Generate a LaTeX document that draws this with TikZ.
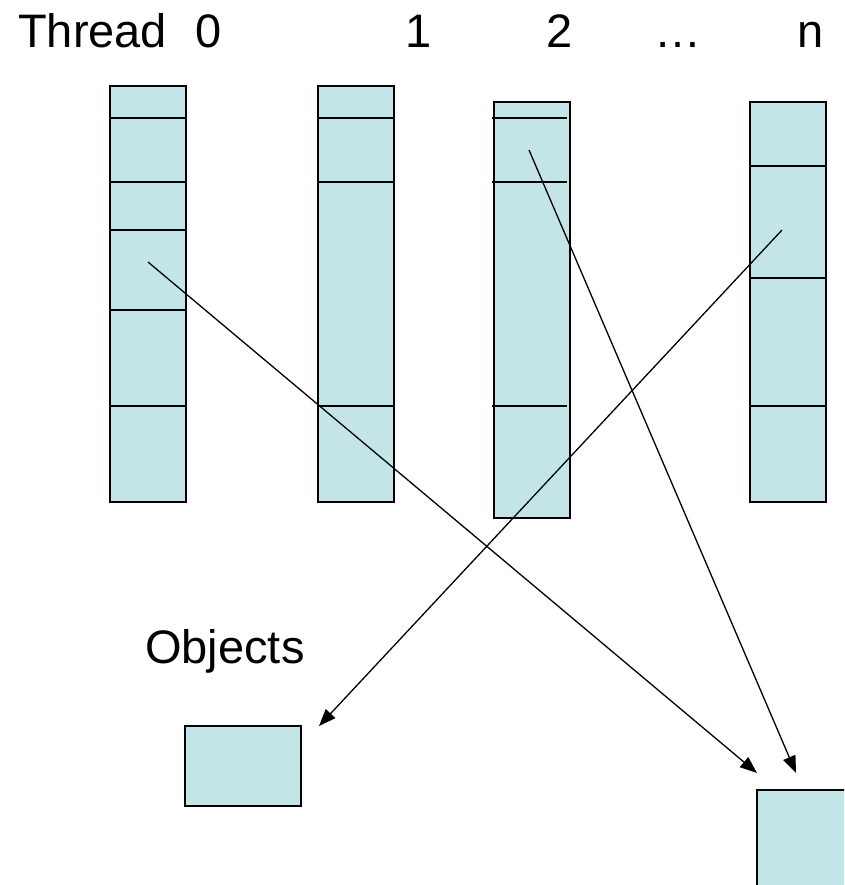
\documentclass[tikz,border=0pt]{standalone}
\usepackage{fontspec}
\setmainfont{Liberation Sans}
\usetikzlibrary{arrows.meta}
\definecolor{cellfill}{RGB}{196,229,231}
\tikzset{
  stack/.style={draw=black, fill=cellfill, line width=2pt, minimum width=76pt, inner sep=0pt, outer sep=0pt},
  objbox/.style={draw=black, fill=cellfill, line width=2pt, inner sep=0pt, outer sep=0pt},
  divider/.style={line width=1.8pt},
  ref/.style={line width=1.3pt, -{Triangle[length=17pt,width=13pt]}},
  label/.style={font=\fontsize{47pt}{50pt}\selectfont, inner sep=0pt, anchor=base}
}
\begin{document}
\begin{tikzpicture}[x=1pt, y=-1pt]
\clip (0,0) rectangle (844,885);
\fill[white] (0,0) rectangle (844,885);

% header
\node[label, anchor=base west] (thr) at (18,48) {Thread};
\node[label] (t0) at (208.5,48) {0};
\node[label] (t1) at (419,48) {1};
\node[label] (t2) at (560,48) {2};
\node[label] (tdots) at (678,48) {…};
\node[label] (tn) at (811,48) {n};

% thread stacks
\node[stack, minimum height=416pt] (c0) at (148,294) {};
\node[stack, minimum height=416pt] (c1) at (356,294) {};
\node[stack, minimum height=416pt] (c2) at (532,310) {};
\node[stack, minimum height=400pt] (cn) at (788,302) {};

% frame boundaries
\foreach \y in {118,182,230,310,406}
  \draw[divider] (c0.west |- 0,\y) -- (c0.east |- 0,\y);
\foreach \y in {118,182,406}
  \draw[divider] (c1.west |- 0,\y) -- (c1.east |- 0,\y);
\foreach \y in {118,182,406}
  \draw[divider] (492,\y) -- (567,\y);
\foreach \y in {166,278,406}
  \draw[divider] (cn.west |- 0,\y) -- (cn.east |- 0,\y);

% objects
\node[label, anchor=base west] (objlbl) at (145,663) {Objects};
\node[objbox, minimum width=116pt, minimum height=80pt] (o1) at (243,766) {};
\node[objbox, minimum width=113pt, minimum height=110pt] (o2) at (813.5,845) {};

% references from stack slots to objects
\coordinate (s0) at (148,262);
\coordinate (s2) at (529,150);
\coordinate (sn) at (782,230);
\coordinate (e0) at (757,773);
\coordinate (e2) at (796,773);
\coordinate (en) at (319,726);
\draw[ref] (s0) -- (e0);
\draw[ref] (s2) -- (e2);
\draw[ref] (sn) -- (en);
\end{tikzpicture}
\end{document}
